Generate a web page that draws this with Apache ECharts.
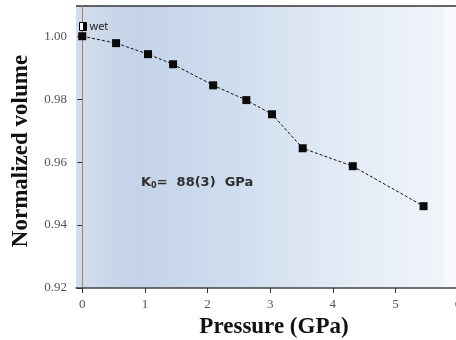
<!DOCTYPE html>
<html lang="en">
<head>
    <meta charset="UTF-8">
    <title>Picture</title>
	<style>
	html, body { margin: 0; padding: 0; background: #fff; }
	</style>
</head>
<body>
    <div id="chart1" style="width:456px;height:340px;"></div>
	<script src="https://cdn.jsdelivr.net/npm/echarts@6/dist/echarts.min.js"></script>
	<script>
	// pressure (GPa) and normalized volume
	var pressure = [0, 0.54, 1.05, 1.45, 2.09, 2.62, 3.03, 3.52, 4.32, 5.45];
	var volume = [1.000, 0.9978, 0.9943, 0.9911, 0.9844, 0.9797, 0.9752, 0.9644, 0.9587, 0.9460];
	var seriesName = 'wet';
	var xTicks = [0, 1, 2, 3, 4, 5, 6];
	var yTicks = [0.92, 0.94, 0.96, 0.98, 1.00];

	var points = [];
	for (var i = 0; i < pressure.length; i++) {
		points.push([pressure[i], volume[i]]);
	}

	var myChart = echarts.init(document.getElementById('chart1'));
	var serif = '"Liberation Serif", "DejaVu Serif", serif';

	myChart.setOption({
		animation: false,
		grid: {
			left: 76, top: 6, width: 382, height: 282,
			outerBoundsMode: 'none',
			containLabel: false,
			show: true,
			borderWidth: 0,
			backgroundColor: {
				type: 'linear', x: 0, y: 0, x2: 1, y2: 0,
				colorStops: [
					{offset: 0, color: '#d3deec'},
					{offset: 0.15, color: '#c4d3e8'},
					{offset: 0.4, color: '#cfdcee'},
					{offset: 0.75, color: '#e6edf7'},
					{offset: 0.96, color: '#f0f4fa'},
					{offset: 0.97, color: '#f7f9fc'},
					{offset: 1, color: '#f7f9fc'}
				]
			}
		},
		legend: {
			left: 74, top: 16,
			itemWidth: 7, itemHeight: 8, itemGap: 4,
			icon: 'rect',
			data: [{name: seriesName, itemStyle: {
				color: {type: 'linear', x: 0, y: 0, x2: 1, y2: 0, colorStops: [
					{offset: 0, color: '#fff'}, {offset: 0.45, color: '#fff'},
					{offset: 0.45, color: '#000'}, {offset: 1, color: '#000'}]},
				borderColor: '#000', borderWidth: 1}}],
			textStyle: {fontFamily: 'Noto Sans, sans-serif', fontSize: 11, color: '#222', padding: [0, 0, 0, -2]}
		},
		xAxis: {
			type: 'value',
			min: -0.1, max: 6,
			name: 'Pressure (GPa)',
			nameLocation: 'middle',
			nameGap: 27,
			nameTextStyle: {fontFamily: serif, fontWeight: 'bold', fontSize: 23, color: '#111', padding: [0, 0, 0, 14]},
			axisLine: {onZero: false, lineStyle: {color: '#444', width: 1.5}},
			axisTick: {show: true, length: 5, lineStyle: {color: '#333'}, customValues: xTicks},
			axisLabel: {fontFamily: serif, fontSize: 13, color: '#555', margin: 10, customValues: xTicks},
			splitLine: {show: false}
		},
		yAxis: {
			type: 'value',
			min: 0.92, max: 1.0096,
			name: 'Normalized volume',
			nameLocation: 'middle',
			nameGap: 43,
			nameTextStyle: {fontFamily: serif, fontWeight: 'bold', fontSize: 23, color: '#111', padding: [0, 8, 0, 0]},
			axisLine: {show: true, lineStyle: {color: '#888', width: 1}},
			axisTick: {show: true, length: 5, lineStyle: {color: '#333'}, customValues: yTicks},
			axisLabel: {fontFamily: serif, fontSize: 13, color: '#555', margin: 9, customValues: yTicks,
				formatter: function (v) { return v.toFixed(2); }},
			splitLine: {show: false}
		},
		graphic: [
			{
				type: 'line',
				shape: {x1: 76, y1: 6, x2: 456, y2: 6},
				style: {stroke: '#333', lineWidth: 1.5}
			},
			{
				type: 'text',
				left: 141, top: 176,
				style: {
					text: '{a|K}{b|0}{a|=  88(3)  GPa}',
					rich: {
						a: {fontFamily: '"DejaVu Sans", sans-serif', fontSize: 13, fontWeight: 'bold', fill: '#2e2e2e'},
						b: {fontFamily: '"DejaVu Sans", sans-serif', fontSize: 8, fontWeight: 'bold', fill: '#2e2e2e', padding: [6, 0, 0, 0]}
					}
				}
			}
		],
		series: [
			{
				name: seriesName,
				type: 'line',
				data: points,
				symbol: 'rect',
				symbolSize: 8,
				itemStyle: {color: '#0a0a0a'},
				lineStyle: {color: '#111', width: 1, type: [3, 2]}
			}
		]
	});
	</script>
</body>
</html>
